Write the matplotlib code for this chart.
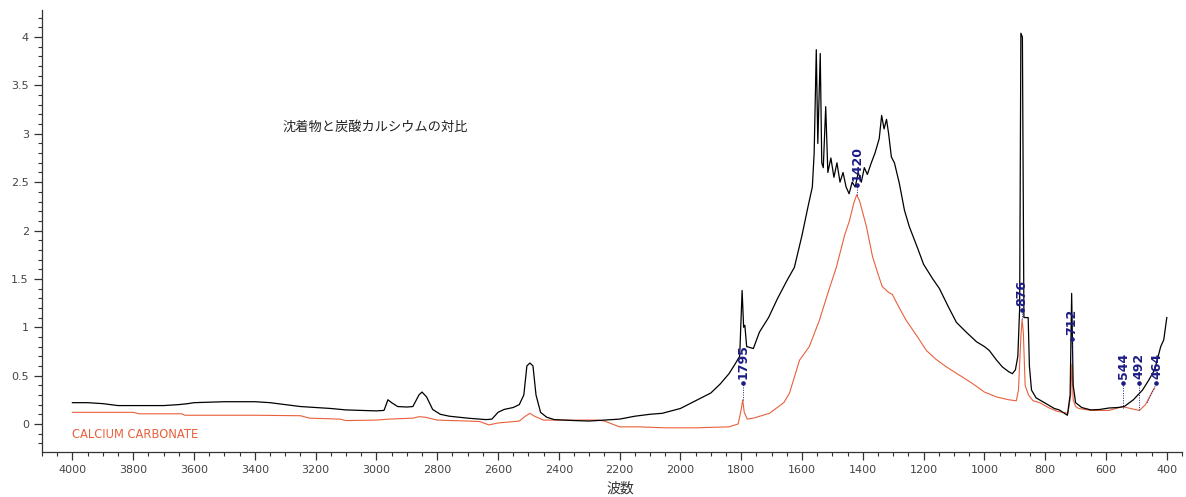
import matplotlib
matplotlib.use("Agg")
import matplotlib.pyplot as plt
from matplotlib.ticker import MultipleLocator, FuncFormatter

# ---------------- data ----------------
deposit_wn = [4000, 3950, 3900, 3850, 3800, 3750, 3700, 3650, 3620, 3600, 3500, 3400, 3350, 3300,
              3250, 3200, 3150, 3100, 3050, 3000, 2975, 2962, 2950, 2930, 2900, 2880, 2860, 2850,
              2835, 2815, 2790, 2760, 2700, 2640, 2620, 2600, 2580, 2550, 2530, 2515, 2505, 2495,
              2485, 2475, 2460, 2440, 2415, 2350, 2300, 2250, 2200, 2150, 2100, 2060, 2000, 1950,
              1900, 1870, 1840, 1820, 1805, 1797, 1792, 1788, 1782, 1760, 1740, 1710, 1680, 1650,
              1625, 1600, 1580, 1566, 1560, 1553, 1548, 1540, 1535, 1530, 1522, 1515, 1505, 1495,
              1485, 1475, 1465, 1455, 1445, 1435, 1425, 1415, 1405, 1395, 1385, 1372, 1360, 1346,
              1338, 1330, 1322, 1315, 1306, 1296, 1280, 1263, 1247, 1220, 1200, 1170, 1148, 1120,
              1092, 1060, 1026, 1000, 984, 960, 941, 920, 908, 898, 890, 884, 880, 875, 870, 856,
              852, 845, 830, 803, 770, 754, 727, 718, 713, 708, 700, 680, 650, 620, 590, 560, 540,
              510, 480, 460, 440, 420, 410, 400]
deposit_abs = [0.22, 0.22, 0.21, 0.19, 0.19, 0.19, 0.19, 0.20, 0.21, 0.22, 0.23, 0.23, 0.22, 0.20,
               0.18, 0.17, 0.16, 0.145, 0.14, 0.135, 0.14, 0.25, 0.22, 0.18, 0.175, 0.18, 0.30, 0.33,
               0.28, 0.15, 0.10, 0.08, 0.06, 0.045, 0.05, 0.12, 0.15, 0.17, 0.20, 0.30, 0.60, 0.63,
               0.60, 0.30, 0.12, 0.07, 0.045, 0.035, 0.03, 0.04, 0.05, 0.08, 0.10, 0.11, 0.16, 0.24,
               0.32, 0.41, 0.52, 0.62, 0.70, 1.38, 1.00, 1.02, 0.80, 0.78, 0.95, 1.10, 1.30, 1.48,
               1.62, 1.95, 2.25, 2.45, 2.80, 3.87, 2.90, 3.83, 2.70, 2.65, 3.28, 2.60, 2.75, 2.55,
               2.70, 2.50, 2.60, 2.45, 2.38, 2.50, 2.45, 2.60, 2.50, 2.65, 2.58, 2.70, 2.80, 2.95,
               3.19, 3.05, 3.15, 3.00, 2.76, 2.70, 2.49, 2.21, 2.04, 1.82, 1.65, 1.50, 1.40, 1.22,
               1.05, 0.95, 0.85, 0.80, 0.76, 0.66, 0.59, 0.54, 0.52, 0.56, 0.70, 1.20, 4.04, 4.00,
               1.10, 1.10, 0.60, 0.35, 0.27, 0.22, 0.16, 0.145, 0.09, 0.30, 1.35, 0.40, 0.22, 0.17,
               0.145, 0.15, 0.165, 0.17, 0.18, 0.25, 0.35, 0.45, 0.56, 0.80, 0.87, 1.10]

caco3_wn = [4000, 3800, 3780, 3640, 3630, 3400, 3250, 3220, 3120, 3100, 3000, 2960, 2880, 2860,
            2840, 2800, 2700, 2660, 2630, 2600, 2530, 2510, 2495, 2480, 2450, 2270, 2250, 2200,
            2135, 2050, 1950, 1840, 1810, 1800, 1795, 1790, 1780, 1760, 1707, 1660, 1641, 1608,
            1576, 1543, 1510, 1487, 1460, 1444, 1430, 1420, 1410, 1388, 1368, 1350, 1336, 1315,
            1303, 1280, 1257, 1220, 1191, 1160, 1125, 1080, 1040, 1000, 961, 920, 895, 888, 880,
            876, 872, 866, 855, 840, 818, 790, 760, 725, 716, 712, 708, 700, 690, 650, 590, 545,
            520, 490, 470, 445, 440]
caco3_abs = [0.12, 0.12, 0.105, 0.105, 0.09, 0.09, 0.085, 0.06, 0.05, 0.035, 0.04, 0.05, 0.06, 0.075,
             0.07, 0.04, 0.03, 0.025, -0.01, 0.01, 0.03, 0.08, 0.11, 0.08, 0.04, 0.04, 0.03, -0.03,
             -0.03, -0.04, -0.04, -0.03, 0.0, 0.15, 0.25, 0.12, 0.05, 0.06, 0.11, 0.22, 0.32, 0.66,
             0.80, 1.07, 1.40, 1.62, 1.95, 2.10, 2.28, 2.37, 2.30, 2.04, 1.73, 1.55, 1.42, 1.36,
             1.34, 1.20, 1.07, 0.90, 0.76, 0.67, 0.59, 0.50, 0.42, 0.33, 0.28, 0.25, 0.24, 0.35, 0.90,
             1.08, 0.95, 0.40, 0.30, 0.24, 0.22, 0.17, 0.13, 0.11, 0.30, 0.62, 0.25, 0.18, 0.16, 0.14,
             0.14, 0.18, 0.16, 0.14, 0.20, 0.35, 0.37]

peak_labels = ["1795", "1420", "876", "712", "544", "492", "464"]
peak_wn = [1795, 1420, 876, 712, 544, 492, 464]
peak_abs = [0.25, 2.37, 1.08, 0.62, 0.16, 0.14, 0.22]
label_base = [0.42, 2.47, 1.18, 0.88, 0.42, 0.42, 0.42]
label_shift = [0, 0, 0, 0, 0, 0, -30]   # horizontal offset of label (cm-1) to avoid overlap

title_text = "沈着物と炭酸カルシウムの対比"
series_label = "CALCIUM CARBONATE"
x_label = "波数"

# ---------------- figure ----------------
plt.rcParams['font.family'] = ['DejaVu Sans']
fig = plt.figure(figsize=(11.86, 4.97), dpi=100)
ax = fig.add_axes([42/1186, 45/497, 1140/1186, 442/497])

red = '#e8603c'
navy = '#1c1c86'

ax.plot(caco3_wn, caco3_abs, color=red, lw=0.8, zorder=2)
ax.plot(deposit_wn, deposit_abs, color='black', lw=0.9, zorder=3)

for lab, wn, pa, base, sh in zip(peak_labels, peak_wn, peak_abs, label_base, label_shift):
    lx = wn + sh
    ax.plot([wn, lx], [pa, base], color=navy, lw=0.7, ls=(0, (1, 1.5)), zorder=4)
    ax.plot([lx], [base], 'o', color=navy, ms=2.3, zorder=5)
    ax.text(lx, base + 0.04, lab, rotation=90, ha='center', va='bottom',
            color=navy, fontsize=9, fontweight='bold', zorder=5)

ax.set_xlim(4100, 350)
ax.set_ylim(-0.29, 4.28)

for s in ['top', 'right']:
    ax.spines[s].set_visible(False)
for s in ['left', 'bottom']:
    ax.spines[s].set_color('#333333')
    ax.spines[s].set_linewidth(0.9)

ax.xaxis.set_major_locator(MultipleLocator(200))
ax.xaxis.set_minor_locator(MultipleLocator(50))
ax.yaxis.set_major_locator(MultipleLocator(0.5))
ax.yaxis.set_minor_locator(MultipleLocator(0.1))
ax.yaxis.set_major_formatter(FuncFormatter(lambda v, p: f"{v:g}"))
ax.tick_params(axis='both', which='major', length=6, width=0.9, colors='#333333',
               labelsize=8, labelcolor='#444444')
ax.tick_params(axis='both', which='minor', length=3, width=0.8, colors='#333333')

ax.text(3310, 3.07, title_text, fontsize=9.5, family=['Noto Sans CJK JP', 'DejaVu Sans'],
        ha='left', va='center', color='#222222')
ax.text(4000, -0.11, series_label, fontsize=8.3, color=red, ha='left', va='center')
fig.text(620/1186, 1 - 489/497, x_label, fontsize=10, family=['Noto Sans CJK JP', 'DejaVu Sans'],
         ha='center', va='center', color='#333333')

fig.savefig('out.png', dpi=100)
